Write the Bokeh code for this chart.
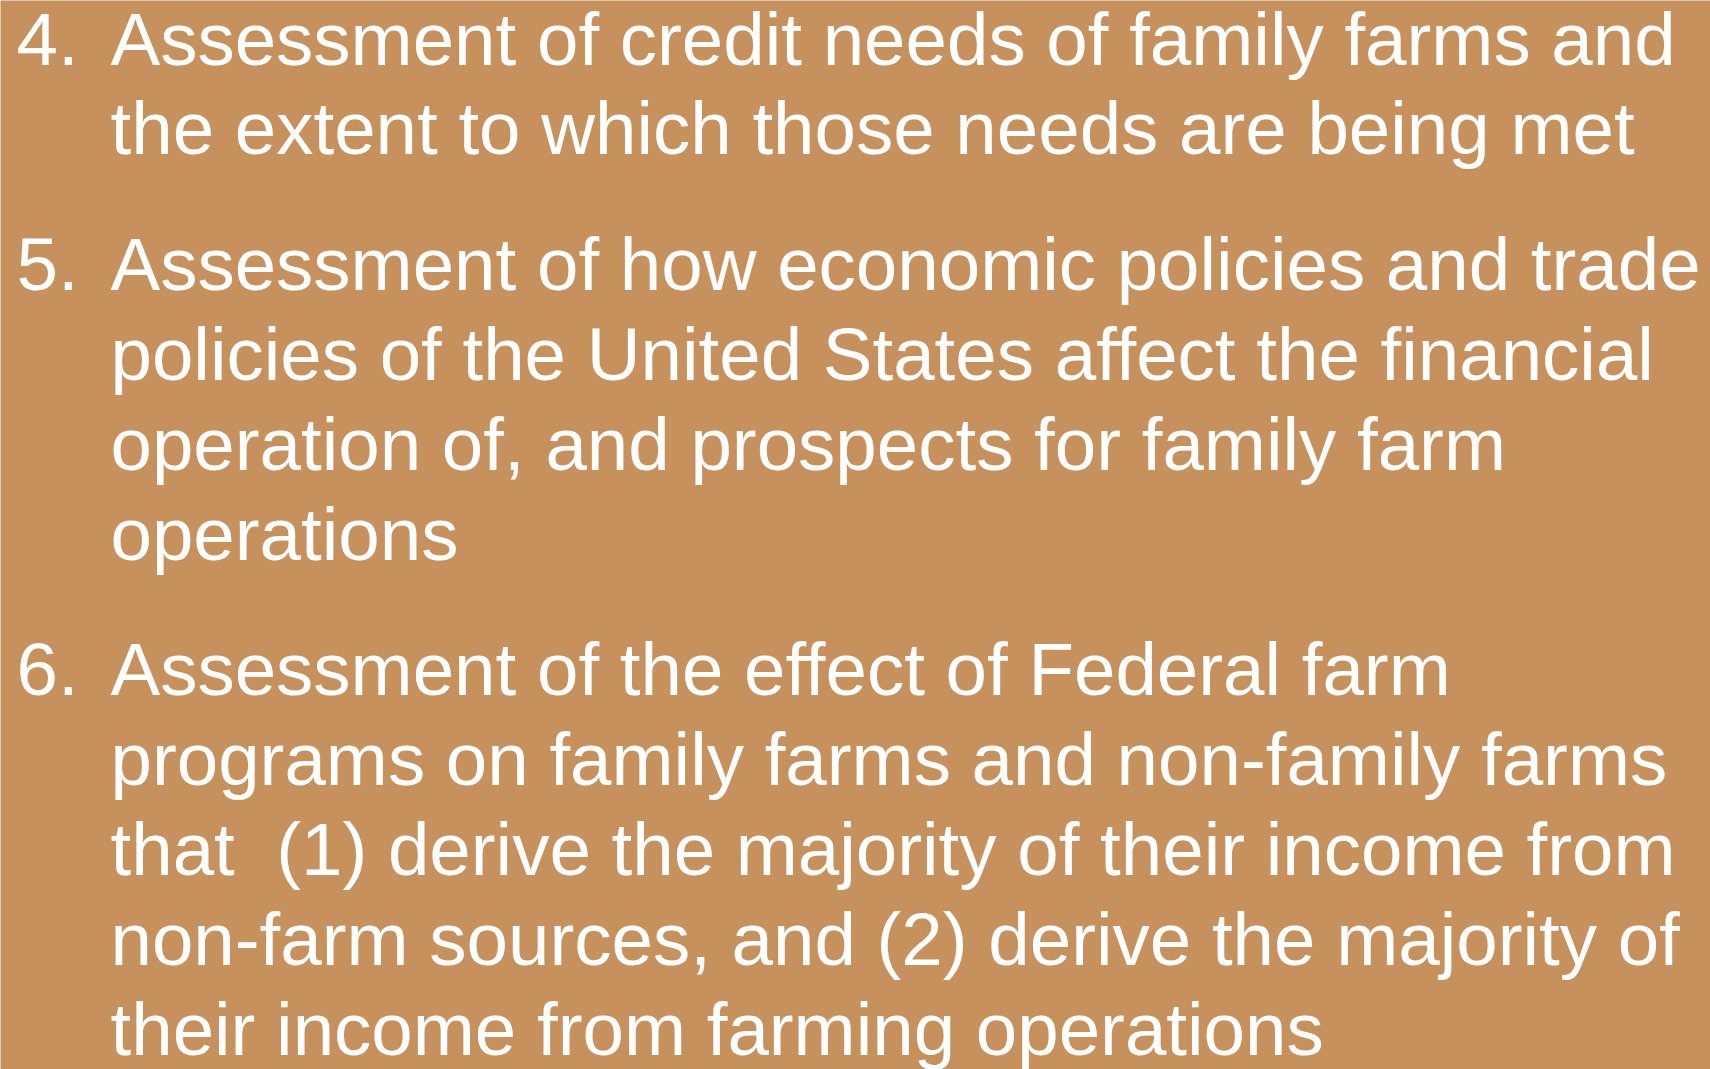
from bokeh.plotting import figure
from bokeh.models import Range1d, ColumnDataSource
from bokeh.core.properties import value
from bokeh.embed import file_html
from bokeh.resources import INLINE

# ---- content ----
item_numbers = ["4.", "5.", "6."]
item4_lines = ["Assessment of credit needs of family farms and",
               "the extent to which those needs are being met"]
item5_lines = ["Assessment of how economic policies and trade",
               "policies of the United States affect the financial",
               "operation of, and prospects for family farm",
               "operations"]
item6_lines = ["Assessment of the effect of Federal farm",
               "programs on family farms and non-family farms",
               "that \u00a0(1) derive the majority of their income from",
               "non-farm sources, and (2) derive the majority of",
               "their income from farming operations"]
items = [item4_lines, item5_lines, item6_lines]

# ---- layout ----
W, H = 1710, 1069
FONT = "Liberation Sans"
SIZE = "74.5px"
num_x, text_x = 16, 110
BASE_FIX = -28.5          # renderer's baseline offset correction
first_base, line_h, para_gap = 67 + BASE_FIX, 89.8, 46
BG = "#C6915C"

num_xs, num_ys, txt_xs, txt_ys, txt = [], [], [], [], []
y = first_base
for n, lines in zip(item_numbers, items):
    num_xs.append(num_x); num_ys.append(y)
    for ln in lines:
        txt_xs.append(text_x); txt_ys.append(y); txt.append(ln)
        y += line_h
    y += para_gap

p = figure(width=W, height=H, output_backend="svg", toolbar_location=None,
           title=None, x_axis_type=None, y_axis_type=None,
           x_range=Range1d(0, W), y_range=Range1d(H, 0), min_border=0)
p.grid.visible = False
p.outline_line_color = None
p.background_fill_color = BG
p.border_fill_color = BG

p.text(x="x", y="y", text="t", source=ColumnDataSource(dict(x=num_xs, y=num_ys, t=item_numbers)),
       text_font=value(FONT), text_font_size=SIZE, text_color="white",
       text_baseline="alphabetic", text_align="left")
p.text(x="x", y="y", text="t", source=ColumnDataSource(dict(x=txt_xs, y=txt_ys, t=txt)),
       text_font=value(FONT), text_font_size=SIZE, text_color="white",
       text_baseline="alphabetic", text_align="left")

open("out.html", "w").write(file_html(p, INLINE))
